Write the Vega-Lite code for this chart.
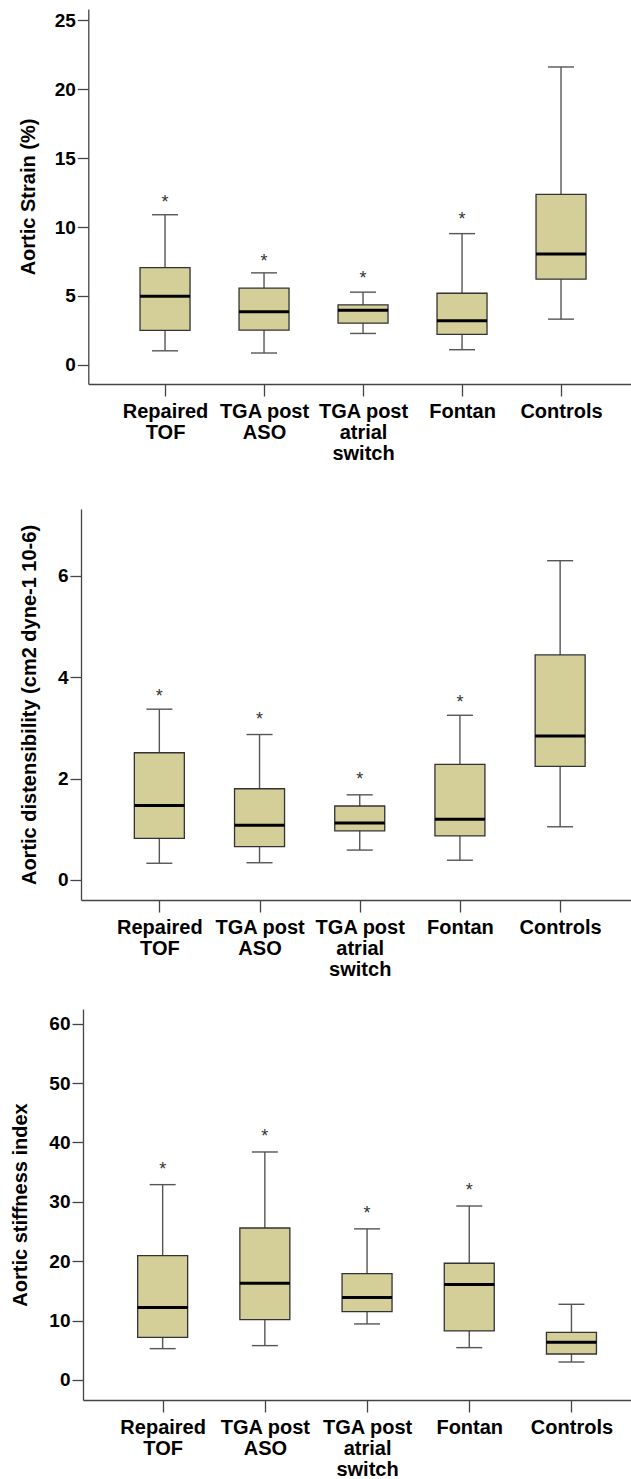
{
  "$schema": "https://vega.github.io/schema/vega-lite/v6.json",
  "padding": {"left": 10, "top": 9, "right": 0, "bottom": 0},
  "columns": 1,
  "spacing": 30,
  "datasets": {
    "strain": [
      {"group": "Repaired TOF", "min": 1.01, "q1": 2.49, "median": 4.98, "q3": 7.05, "max": 10.89, "star": 12.08},
      {"group": "TGA post ASO", "min": 0.85, "q1": 2.51, "median": 3.84, "q3": 5.56, "max": 6.67, "star": 7.8},
      {"group": "TGA post atrial switch", "min": 2.27, "q1": 3.02, "median": 3.96, "q3": 4.35, "max": 5.27, "star": 6.57},
      {"group": "Fontan", "min": 1.09, "q1": 2.2, "median": 3.19, "q3": 5.19, "max": 9.52, "star": 10.87},
      {"group": "Controls", "min": 3.31, "q1": 6.21, "median": 8.04, "q3": 12.37, "max": 21.62, "star": null}
    ],
    "dist": [
      {"group": "Repaired TOF", "min": 0.33, "q1": 0.82, "median": 1.47, "q3": 2.51, "max": 3.37, "star": 3.7},
      {"group": "TGA post ASO", "min": 0.34, "q1": 0.66, "median": 1.08, "q3": 1.8, "max": 2.87, "star": 3.26},
      {"group": "TGA post atrial switch", "min": 0.59, "q1": 0.97, "median": 1.125, "q3": 1.46, "max": 1.68, "star": 2.07},
      {"group": "Fontan", "min": 0.39, "q1": 0.87, "median": 1.2, "q3": 2.28, "max": 3.25, "star": 3.59},
      {"group": "Controls", "min": 1.05, "q1": 2.24, "median": 2.84, "q3": 4.44, "max": 6.3, "star": null}
    ],
    "stiff": [
      {"group": "Repaired TOF", "min": 5.28, "q1": 7.19, "median": 12.19, "q3": 20.96, "max": 32.9, "star": 36.2},
      {"group": "TGA post ASO", "min": 5.79, "q1": 10.17, "median": 16.3, "q3": 25.6, "max": 38.4, "star": 41.8},
      {"group": "TGA post atrial switch", "min": 9.44, "q1": 11.5, "median": 13.9, "q3": 17.9, "max": 25.45, "star": 28.8},
      {"group": "Fontan", "min": 5.45, "q1": 8.26, "median": 16.1, "q3": 19.66, "max": 29.3, "star": 32.6},
      {"group": "Controls", "min": 3.03, "q1": 4.38, "median": 6.35, "q3": 8.03, "max": 12.75, "star": null}
    ]
  },
  "concat": [
    {
      "width": 550,
      "height": 375,
      "data": {"name": "strain"},
      "encoding": {
        "x": {
          "field": "group", "type": "nominal", "sort": null,
          "scale": {"type": "point", "domain": ["Repaired TOF", "TGA post ASO", "TGA post atrial switch", "Fontan", "Controls"], "range": [7.3, 550.3], "padding": 0.7424, "align": 0.522},
          "axis": {"title": " ", "titleFontSize": 10, "titlePadding": 6, "labelAngle": 0, "tickSize": 12, "labelPadding": 5, "labelFontSize": 20, "labelLineHeight": 21, "labelOverlap": false,
            "labelExpr": "datum.value == 'Repaired TOF' ? ['Repaired','TOF'] : datum.value == 'TGA post ASO' ? ['TGA post','ASO'] : datum.value == 'TGA post atrial switch' ? ['TGA post','atrial','switch'] : datum.value"}
        }
      },
      "layer": [
        {"mark": {"type": "rule", "color": "#555555", "strokeWidth": 1.4},
         "encoding": {"y": {"field": "min", "type": "quantitative", "scale": {"domain": [-1.4, 25.83], "nice": false, "zero": false},
           "axis": {"title": "Aortic Strain (%)", "offset": -7.3, "values": [0, 5, 10, 15, 20, 25], "tickSize": 11, "labelPadding": 2, "titlePadding": 15.9, "labelFontSize": 19, "titleFontSize": 20}},
           "y2": {"field": "max"}}},
        {"mark": {"type": "tick", "color": "#555555", "thickness": 1.4, "size": 26, "opacity": 1},
         "encoding": {"y": {"field": "min", "type": "quantitative", "scale": {"domain": [-1.4, 25.83], "nice": false, "zero": false},
           "axis": {"title": "Aortic Strain (%)", "offset": -7.3, "values": [0, 5, 10, 15, 20, 25], "tickSize": 11, "labelPadding": 2, "titlePadding": 15.9, "labelFontSize": 19, "titleFontSize": 20}}}},
        {"mark": {"type": "tick", "color": "#555555", "thickness": 1.4, "size": 26, "opacity": 1},
         "encoding": {"y": {"field": "max", "type": "quantitative", "scale": {"domain": [-1.4, 25.83], "nice": false, "zero": false},
           "axis": {"title": "Aortic Strain (%)", "offset": -7.3, "values": [0, 5, 10, 15, 20, 25], "tickSize": 11, "labelPadding": 2, "titlePadding": 15.9, "labelFontSize": 19, "titleFontSize": 20}}}},
        {"mark": {"type": "bar", "width": 50, "fill": "#d4cf98", "stroke": "#333333", "strokeWidth": 1.3, "opacity": 1},
         "encoding": {"y": {"field": "q1", "type": "quantitative", "scale": {"domain": [-1.4, 25.83], "nice": false, "zero": false},
           "axis": {"title": "Aortic Strain (%)", "offset": -7.3, "values": [0, 5, 10, 15, 20, 25], "tickSize": 11, "labelPadding": 2, "titlePadding": 15.9, "labelFontSize": 19, "titleFontSize": 20}}, "y2": {"field": "q3"}}},
        {"mark": {"type": "tick", "color": "#000000", "thickness": 3, "size": 50, "opacity": 1},
         "encoding": {"y": {"field": "median", "type": "quantitative", "scale": {"domain": [-1.4, 25.83], "nice": false, "zero": false},
           "axis": {"title": "Aortic Strain (%)", "offset": -7.3, "values": [0, 5, 10, 15, 20, 25], "tickSize": 11, "labelPadding": 2, "titlePadding": 15.9, "labelFontSize": 19, "titleFontSize": 20}}}},
        {"transform": [{"filter": "isValid(datum.star)"}],
         "mark": {"type": "text", "text": "*", "fontSize": 18, "color": "#333333", "baseline": "alphabetic", "dy": 10},
         "encoding": {"y": {"field": "star", "type": "quantitative", "scale": {"domain": [-1.4, 25.83], "nice": false, "zero": false},
           "axis": {"title": "Aortic Strain (%)", "offset": -7.3, "values": [0, 5, 10, 15, 20, 25], "tickSize": 11, "labelPadding": 2, "titlePadding": 15.9, "labelFontSize": 19, "titleFontSize": 20}}}}
      ]
    },
    {
      "width": 550,
      "height": 391,
      "data": {"name": "dist"},
      "encoding": {
        "x": {
          "field": "group", "type": "nominal", "sort": null,
          "scale": {"type": "point", "domain": ["Repaired TOF", "TGA post ASO", "TGA post atrial switch", "Fontan", "Controls"], "range": [0, 550.3], "padding": 0.746, "align": 0.524},
          "axis": {"title": null, "labelAngle": 0, "tickSize": 12, "labelPadding": 5, "labelFontSize": 20, "labelLineHeight": 21, "labelOverlap": false,
            "labelExpr": "datum.value == 'Repaired TOF' ? ['Repaired','TOF'] : datum.value == 'TGA post ASO' ? ['TGA post','ASO'] : datum.value == 'TGA post atrial switch' ? ['TGA post','atrial','switch'] : datum.value"}
        }
      },
      "layer": [
        {"mark": {"type": "rule", "color": "#555555", "strokeWidth": 1.4},
         "encoding": {"y": {"field": "min", "type": "quantitative", "scale": {"domain": [-0.395, 7.32], "nice": false, "zero": false},
           "axis": {"title": "Aortic distensibility (cm2 dyne-1 10-6)", "values": [0, 2, 4, 6], "tickSize": 11, "labelPadding": 2, "titlePadding": 17.8, "labelFontSize": 19, "titleFontSize": 20}},
           "y2": {"field": "max"}}},
        {"mark": {"type": "tick", "color": "#555555", "thickness": 1.4, "size": 26, "opacity": 1},
         "encoding": {"y": {"field": "min", "type": "quantitative", "scale": {"domain": [-0.395, 7.32], "nice": false, "zero": false},
           "axis": {"title": "Aortic distensibility (cm2 dyne-1 10-6)", "values": [0, 2, 4, 6], "tickSize": 11, "labelPadding": 2, "titlePadding": 17.8, "labelFontSize": 19, "titleFontSize": 20}}}},
        {"mark": {"type": "tick", "color": "#555555", "thickness": 1.4, "size": 26, "opacity": 1},
         "encoding": {"y": {"field": "max", "type": "quantitative", "scale": {"domain": [-0.395, 7.32], "nice": false, "zero": false},
           "axis": {"title": "Aortic distensibility (cm2 dyne-1 10-6)", "values": [0, 2, 4, 6], "tickSize": 11, "labelPadding": 2, "titlePadding": 17.8, "labelFontSize": 19, "titleFontSize": 20}}}},
        {"mark": {"type": "bar", "width": 50, "fill": "#d4cf98", "stroke": "#333333", "strokeWidth": 1.3, "opacity": 1},
         "encoding": {"y": {"field": "q1", "type": "quantitative", "scale": {"domain": [-0.395, 7.32], "nice": false, "zero": false},
           "axis": {"title": "Aortic distensibility (cm2 dyne-1 10-6)", "values": [0, 2, 4, 6], "tickSize": 11, "labelPadding": 2, "titlePadding": 17.8, "labelFontSize": 19, "titleFontSize": 20}}, "y2": {"field": "q3"}}},
        {"mark": {"type": "tick", "color": "#000000", "thickness": 3, "size": 50, "opacity": 1},
         "encoding": {"y": {"field": "median", "type": "quantitative", "scale": {"domain": [-0.395, 7.32], "nice": false, "zero": false},
           "axis": {"title": "Aortic distensibility (cm2 dyne-1 10-6)", "values": [0, 2, 4, 6], "tickSize": 11, "labelPadding": 2, "titlePadding": 17.8, "labelFontSize": 19, "titleFontSize": 20}}}},
        {"transform": [{"filter": "isValid(datum.star)"}],
         "mark": {"type": "text", "text": "*", "fontSize": 18, "color": "#333333", "baseline": "alphabetic", "dy": 10},
         "encoding": {"y": {"field": "star", "type": "quantitative", "scale": {"domain": [-0.395, 7.32], "nice": false, "zero": false},
           "axis": {"title": "Aortic distensibility (cm2 dyne-1 10-6)", "values": [0, 2, 4, 6], "tickSize": 11, "labelPadding": 2, "titlePadding": 17.8, "labelFontSize": 19, "titleFontSize": 20}}}}
      ]
    },
    {
      "width": 550,
      "height": 391,
      "data": {"name": "stiff"},
      "encoding": {
        "x": {
          "field": "group", "type": "nominal", "sort": null,
          "scale": {"type": "point", "domain": ["Repaired TOF", "TGA post ASO", "TGA post atrial switch", "Fontan", "Controls"], "range": [2, 550.3], "padding": 0.6825, "align": 0.571},
          "axis": {"title": null, "labelAngle": 0, "tickSize": 12, "labelPadding": 5, "labelFontSize": 20, "labelLineHeight": 21, "labelOverlap": false,
            "labelExpr": "datum.value == 'Repaired TOF' ? ['Repaired','TOF'] : datum.value == 'TGA post ASO' ? ['TGA post','ASO'] : datum.value == 'TGA post atrial switch' ? ['TGA post','atrial','switch'] : datum.value"}
        }
      },
      "layer": [
        {"mark": {"type": "rule", "color": "#555555", "strokeWidth": 1.4},
         "encoding": {"y": {"field": "min", "type": "quantitative", "scale": {"domain": [-3.37, 62.48], "nice": false, "zero": false},
           "axis": {"title": "Aortic stiffness index", "offset": -2, "values": [0, 10, 20, 30, 40, 50, 60], "tickSize": 11, "labelPadding": 2, "titlePadding": 18.3, "labelFontSize": 19, "titleFontSize": 20}},
           "y2": {"field": "max"}}},
        {"mark": {"type": "tick", "color": "#555555", "thickness": 1.4, "size": 26, "opacity": 1},
         "encoding": {"y": {"field": "min", "type": "quantitative", "scale": {"domain": [-3.37, 62.48], "nice": false, "zero": false},
           "axis": {"title": "Aortic stiffness index", "offset": -2, "values": [0, 10, 20, 30, 40, 50, 60], "tickSize": 11, "labelPadding": 2, "titlePadding": 18.3, "labelFontSize": 19, "titleFontSize": 20}}}},
        {"mark": {"type": "tick", "color": "#555555", "thickness": 1.4, "size": 26, "opacity": 1},
         "encoding": {"y": {"field": "max", "type": "quantitative", "scale": {"domain": [-3.37, 62.48], "nice": false, "zero": false},
           "axis": {"title": "Aortic stiffness index", "offset": -2, "values": [0, 10, 20, 30, 40, 50, 60], "tickSize": 11, "labelPadding": 2, "titlePadding": 18.3, "labelFontSize": 19, "titleFontSize": 20}}}},
        {"mark": {"type": "bar", "width": 50, "fill": "#d4cf98", "stroke": "#333333", "strokeWidth": 1.3, "opacity": 1},
         "encoding": {"y": {"field": "q1", "type": "quantitative", "scale": {"domain": [-3.37, 62.48], "nice": false, "zero": false},
           "axis": {"title": "Aortic stiffness index", "offset": -2, "values": [0, 10, 20, 30, 40, 50, 60], "tickSize": 11, "labelPadding": 2, "titlePadding": 18.3, "labelFontSize": 19, "titleFontSize": 20}}, "y2": {"field": "q3"}}},
        {"mark": {"type": "tick", "color": "#000000", "thickness": 3, "size": 50, "opacity": 1},
         "encoding": {"y": {"field": "median", "type": "quantitative", "scale": {"domain": [-3.37, 62.48], "nice": false, "zero": false},
           "axis": {"title": "Aortic stiffness index", "offset": -2, "values": [0, 10, 20, 30, 40, 50, 60], "tickSize": 11, "labelPadding": 2, "titlePadding": 18.3, "labelFontSize": 19, "titleFontSize": 20}}}},
        {"transform": [{"filter": "isValid(datum.star)"}],
         "mark": {"type": "text", "text": "*", "fontSize": 18, "color": "#333333", "baseline": "alphabetic", "dy": 10},
         "encoding": {"y": {"field": "star", "type": "quantitative", "scale": {"domain": [-3.37, 62.48], "nice": false, "zero": false},
           "axis": {"title": "Aortic stiffness index", "offset": -2, "values": [0, 10, 20, 30, 40, 50, 60], "tickSize": 11, "labelPadding": 2, "titlePadding": 18.3, "labelFontSize": 19, "titleFontSize": 20}}}}
      ]
    }
  ],
  "config": {
    "font": "Liberation Sans",
    "view": {"stroke": null},
    "axis": {
      "grid": false,
      "domainColor": "#444444",
      "domainWidth": 1.3,
      "tickColor": "#444444",
      "tickWidth": 1.3,
      "labelColor": "#000000",
      "labelFontWeight": "bold",
      "titleColor": "#000000",
      "titleFontWeight": "bold"
    }
  }
}
